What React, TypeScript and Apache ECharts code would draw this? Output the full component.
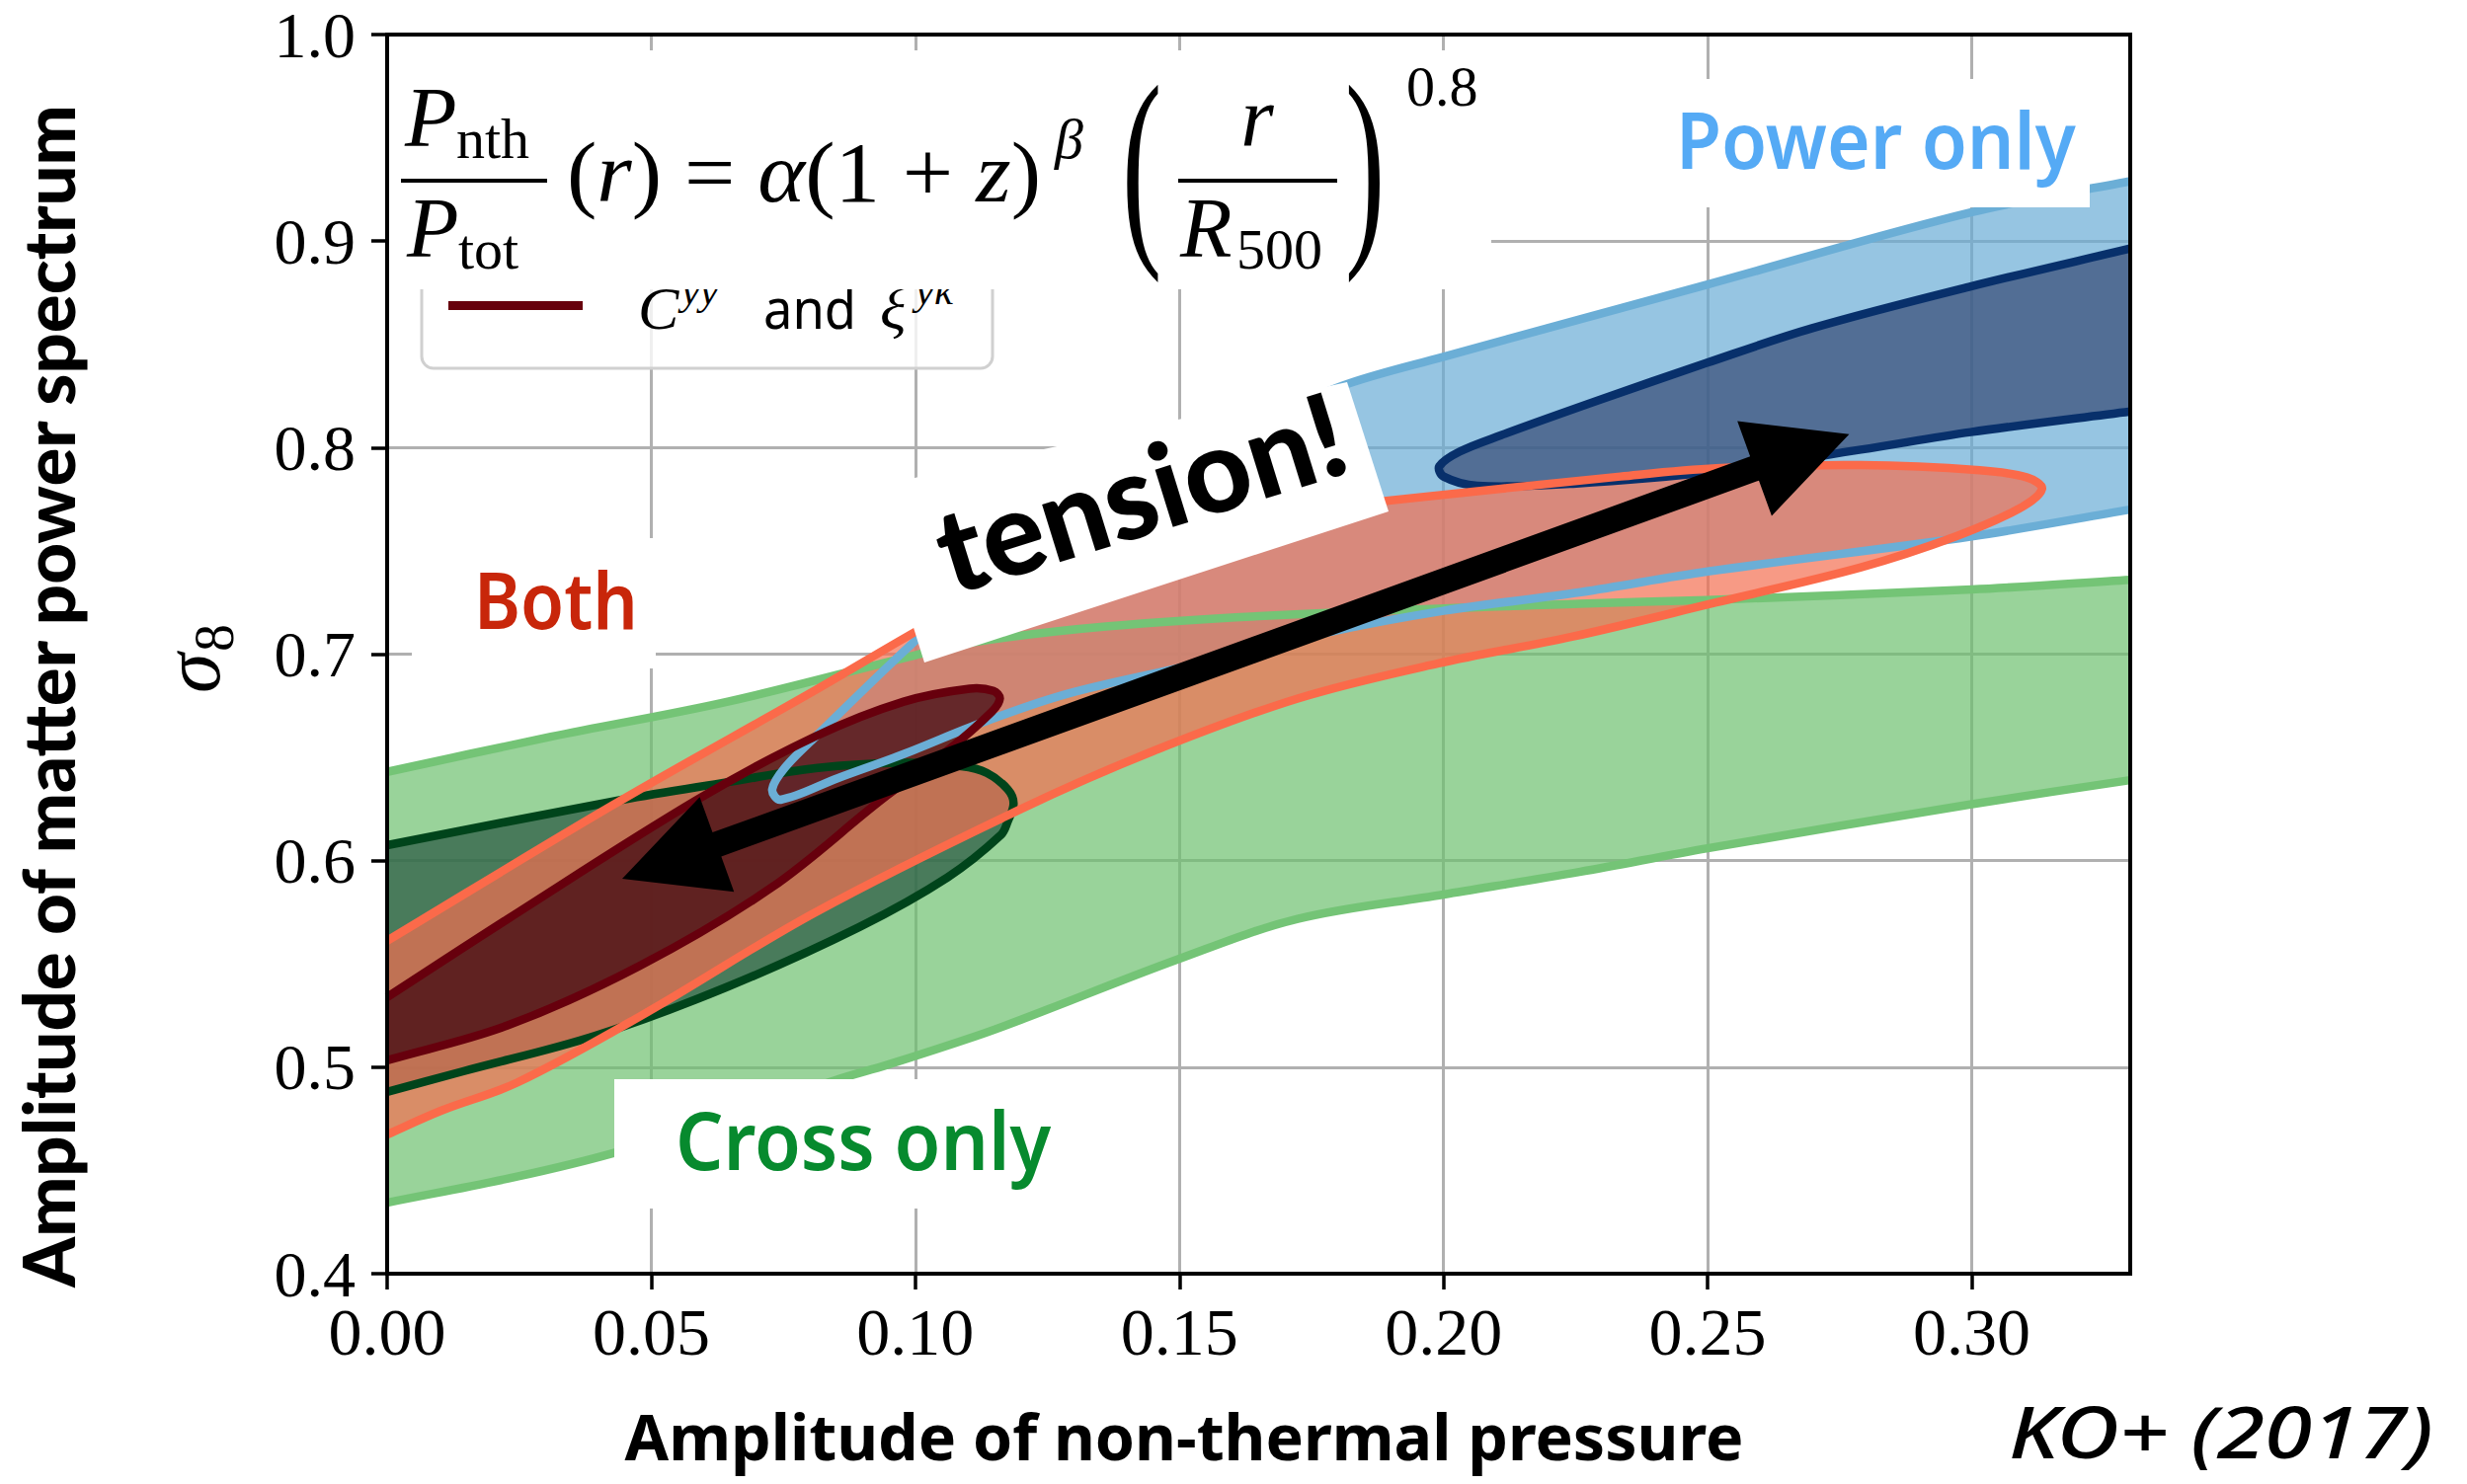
import React, { useEffect, useRef } from 'react';
import * as echarts from 'echarts';

// ---------------- data ----------------
const xTickValues = [0, 0.05, 0.1, 0.15, 0.2, 0.25, 0.3];
const yTickValues = [0.4, 0.5, 0.6, 0.7, 0.8, 0.9, 1.0];
const xRange = [0, 0.33];
const yRange = [0.4, 1.0];

// "Cross only" 95% band (upper and lower edges)
const green95Upper = [[0, 0.643], [0.031, 0.66], [0.0645, 0.677], [0.1, 0.6995], [0.1115, 0.706], [0.1366, 0.7135], [0.17, 0.719], [0.2257, 0.7244], [0.25, 0.7262], [0.3, 0.7313], [0.33, 0.736]];
const green95Lower = [[0, 0.4344], [0.0246, 0.447], [0.043, 0.4585], [0.065, 0.476], [0.0846, 0.4935], [0.0949, 0.5013], [0.1114, 0.515], [0.12, 0.523], [0.15, 0.5525], [0.1724, 0.5718], [0.2, 0.5836], [0.2257, 0.5945], [0.25, 0.606], [0.3, 0.6273], [0.33, 0.639]];
// "Cross only" 68%
const green68 = [[0, 0.6075], [0.0445, 0.6295], [0.0645, 0.638], [0.0811, 0.6448], [0.0978, 0.6474], [0.1087, 0.6457], [0.1135, 0.6425], [0.1175, 0.6345], [0.1186, 0.6277], [0.1175, 0.619], [0.1162, 0.6124], [0.1061, 0.5919], [0.0895, 0.568], [0.0645, 0.539], [0.0394, 0.5152], [0.0144, 0.498], [0, 0.488]];
// "Power only" 95%
const blue95 = [[0.33, 0.929], [0.3, 0.914], [0.25, 0.879], [0.2, 0.844], [0.182, 0.831], [0.17, 0.818], [0.16, 0.804], [0.15, 0.791], [0.14, 0.778], [0.13, 0.763], [0.12, 0.747], [0.11, 0.728], [0.1, 0.7065], [0.0811, 0.66], [0.0753, 0.645], [0.0729, 0.6345], [0.0745, 0.6295], [0.0854, 0.64], [0.0979, 0.6517], [0.1128, 0.667], [0.1285, 0.6806], [0.151, 0.694], [0.178, 0.7105], [0.2, 0.721], [0.226, 0.73], [0.25, 0.74], [0.3, 0.757], [0.33, 0.77]];
// "Power only" 68%
const blue68 = [[0.33, 0.8964], [0.2998, 0.878], [0.2698, 0.8578], [0.2498, 0.841], [0.229, 0.8226], [0.2109, 0.806], [0.203, 0.798], [0.1992, 0.791], [0.2, 0.786], [0.2064, 0.7815], [0.2245, 0.7825], [0.2516, 0.7885], [0.279, 0.799], [0.2998, 0.8075], [0.33, 0.8175]];
// "Both" 95%
const red95 = [[0, 0.5612], [0.0428, 0.627], [0.0811, 0.6826], [0.1, 0.7108], [0.115, 0.732], [0.13, 0.748], [0.15, 0.761], [0.17, 0.769], [0.1883, 0.774], [0.2335, 0.786], [0.2516, 0.79], [0.279, 0.7915], [0.3015, 0.789], [0.3105, 0.7855], [0.3133, 0.78], [0.309, 0.7705], [0.297, 0.757], [0.279, 0.742], [0.2516, 0.725], [0.2245, 0.7085], [0.199, 0.6955], [0.1724, 0.6785], [0.145, 0.653], [0.12, 0.625], [0.0811, 0.575], [0.0478, 0.5245], [0.0246, 0.4925], [0.0103, 0.479], [0, 0.4674]];
// "Both" 68%
const red68 = [[0, 0.5339], [0.0228, 0.5717], [0.0587, 0.6295], [0.0811, 0.6602], [0.0978, 0.677], [0.1103, 0.6833], [0.1148, 0.6822], [0.116, 0.6785], [0.1145, 0.6722], [0.1061, 0.6533], [0.0936, 0.6295], [0.0728, 0.587], [0.0478, 0.549], [0.0228, 0.5202], [0, 0.5033]];
// double-headed "tension" arrow: tip points
const arrowEnds = [[0.0445, 0.5912], [0.2768, 0.8065]];

// ---------------- layout / style ----------------
const W = 2498;
const H = 1503;
const GRID = { left: 392, top: 35, width: 1765, height: 1255 };
const SERIF = 'Liberation Serif';
const SANS = 'Noto Sans';
const KMAP: Record<string, number> = { 'Liberation Serif': 0.3375, 'Noto Sans': 0.388, Lato: 0.387 };
const SMOOTH = 0.35;
const LINE_W = 8.5;

let _ctx: any = null;
function measure(text: string, size: number, family: string, weight: any = 'normal', style = 'normal') {
  if (!_ctx) _ctx = document.createElement('canvas').getContext('2d');
  _ctx.font = `${style} ${weight} ${size}px "${family}"`;
  return _ctx.measureText(text).width;
}

function textEl(text: string, x: number, baseline: number, o: any) {
  const k = KMAP[o.family] ?? 0.35;
  return {
    type: 'text',
    x,
    y: baseline - k * o.size,
    scaleX: o.scaleX ?? 1,
    z: 50,
    style: {
      text,
      fontSize: o.size,
      fontFamily: o.family,
      fontWeight: o.weight ?? 'normal',
      fontStyle: o.style ?? 'normal',
      fill: o.fill ?? '#000',
      align: o.align ?? 'left',
      verticalAlign: 'middle',
    },
  };
}

function fitText(text: string, x: number, baseline: number, width: number, o: any) {
  const w = measure(text, o.size, o.family, o.weight, o.style);
  return textEl(text, x, baseline, { ...o, scaleX: width / w });
}

// Cubic segments through pixel points of an open curve (distance-weighted tangents)
const f2 = (v: number) => v.toFixed(2);
function curveSegs(px: number[][]) {
  const n = px.length;
  const before: number[][] = [];
  const after: number[][] = [];
  for (let i = 0; i < n; i++) {
    const p = px[i];
    const prev = px[Math.max(i - 1, 0)];
    const next = px[Math.min(i + 1, n - 1)];
    const vx = next[0] - prev[0];
    const vy = next[1] - prev[1];
    let d0 = Math.hypot(p[0] - prev[0], p[1] - prev[1]);
    let d1 = Math.hypot(next[0] - p[0], next[1] - p[1]);
    const s = d0 + d1;
    if (s > 0) { d0 /= s; d1 /= s; }
    before.push([p[0] - vx * SMOOTH * d0, p[1] - vy * SMOOTH * d0]);
    after.push([p[0] + vx * SMOOTH * d1, p[1] + vy * SMOOTH * d1]);
  }
  let d = '';
  for (let i = 0; i < n - 1; i++) {
    d += ` C${f2(after[i][0])} ${f2(after[i][1])} ${f2(before[i + 1][0])} ${f2(before[i + 1][1])} ${f2(px[i + 1][0])} ${f2(px[i + 1][1])}`;
  }
  return d;
}
function openPath(px: number[][]) {
  return `M${f2(px[0][0])} ${f2(px[0][1])}` + curveSegs(px);
}
// filled region: smooth contour pieces joined by straight runs along the plot edge
function fillPath(parts: number[][][]) {
  let d = `M${f2(parts[0][0][0])} ${f2(parts[0][0][1])}` + curveSegs(parts[0]);
  for (let k = 1; k < parts.length; k++) {
    d += ` L${f2(parts[k][0][0])} ${f2(parts[k][0][1])}` + curveSegs(parts[k]);
  }
  return d + ' Z';
}

function fillSeries(parts: number[][][], fill: string) {
  return {
    type: 'custom',
    coordinateSystem: 'cartesian2d',
    silent: true,
    z: 2,
    data: [[0.1, 0.6]],
    renderItem: (_params: any, api: any) => ({
      type: 'path',
      shape: { pathData: fillPath(parts.map((l) => l.map((p) => api.coord(p)))) },
      style: { fill, stroke: null },
    }),
  };
}

function lineSeries(lines: number[][][], color: string, width: number) {
  return {
    type: 'custom',
    coordinateSystem: 'cartesian2d',
    silent: true,
    z: 3,
    data: [[0.1, 0.6]],
    renderItem: (_params: any, api: any) => ({
      type: 'group',
      children: lines.map((l) => ({
        type: 'path',
        shape: { pathData: openPath(l.map((p) => api.coord(p))) },
        style: { stroke: color, lineWidth: width, fill: null, lineJoin: 'round' },
      })),
    }),
  };
}

function arrowSeries() {
  return {
    type: 'custom',
    coordinateSystem: 'cartesian2d',
    silent: true,
    z: 4,
    data: [[0.1, 0.6]],
    renderItem: (_p: any, api: any) => {
      const a = api.coord(arrowEnds[0]);
      const b = api.coord(arrowEnds[1]);
      const dx = b[0] - a[0];
      const dy = b[1] - a[1];
      const L = Math.hypot(dx, dy);
      const ux = dx / L, uy = dy / L, nx = -uy, ny = ux;
      const hl = 102, hw = 51, sw = 13;
      const P = (base: number[], u: number, n: number) => [base[0] + ux * u + nx * n, base[1] + uy * u + ny * n];
      const pts = [
        a,
        P(a, hl, hw), P(a, hl, sw), P(b, -hl, sw), P(b, -hl, hw),
        b,
        P(b, -hl, -hw), P(b, -hl, -sw), P(a, hl, -sw), P(a, hl, -hw),
      ];
      return { type: 'polygon', shape: { points: pts }, style: { fill: '#000' } };
    },
  };
}

function buildGraphics() {
  const g: any[] = [];
  // legend (mostly hidden by formula box)
  g.push({ type: 'rect', z: 50, shape: { x: 427, y: 240, width: 578, height: 133, r: 12 }, style: { fill: 'rgba(255,255,255,0.8)', stroke: '#d0d0d0', lineWidth: 3 } });
  g.push({ type: 'rect', z: 50, shape: { x: 454, y: 305, width: 136, height: 9 }, style: { fill: '#67000d' } });
  g.push(textEl('C', 646, 333, { size: 62, family: SERIF, style: 'italic' }));
  g.push(textEl('yy', 690, 308, { size: 42, family: SERIF, style: 'italic' }));
  g.push(fitText('and', 773, 333, 94, { size: 56, family: SANS }));
  g.push(textEl('ξ', 891, 333, { size: 62, family: SERIF, style: 'italic' }));
  g.push(textEl('yκ', 927, 308, { size: 42, family: SERIF, style: 'italic' }));

  // formula box
  g.push({ type: 'rect', z: 50, shape: { x: 394, y: 51, width: 1116, height: 242 }, style: { fill: '#fff' } });
  g.push(textEl('P', 410, 148, { size: 86, family: SERIF, style: 'italic' }));
  g.push(textEl('nth', 462, 160, { size: 58, family: SERIF }));
  g.push({ type: 'rect', z: 50, shape: { x: 406, y: 181, width: 148, height: 4 }, style: { fill: '#000' } });
  g.push(textEl('P', 412, 260, { size: 86, family: SERIF, style: 'italic' }));
  g.push(textEl('tot', 464, 272, { size: 58, family: SERIF }));
  const segs: [string, string][] = [['(', 'normal'], ['r', 'italic'], [')', 'normal'], [' = ', 'normal'], ['α', 'italic'], ['(1 + ', 'normal'], ['z', 'italic'], [')', 'normal']];
  let cx = 0;
  const kids = segs.map(([t, st]) => {
    const el = textEl(t, cx, 0, { size: 86, family: SERIF, style: st });
    cx += measure(t, 86, SERIF, 'normal', st);
    return el;
  });
  g.push({ type: 'group', x: 574, y: 204, scaleX: 480 / cx, z: 50, children: kids });
  g.push(textEl('β', 1068, 160, { size: 58, family: SERIF, style: 'italic' }));
  g.push(textEl('(', 1136, 239, { size: 220, family: SERIF, scaleX: 0.55 }));
  g.push(textEl('r', 1273, 148, { size: 86, family: SERIF, style: 'italic', align: 'center' }));
  g.push({ type: 'rect', z: 50, shape: { x: 1193, y: 181, width: 161, height: 4 }, style: { fill: '#000' } });
  g.push(textEl('R', 1195, 260, { size: 86, family: SERIF, style: 'italic' }));
  g.push(textEl('500', 1252, 272, { size: 58, family: SERIF }));
  g.push(textEl(')', 1362, 239, { size: 220, family: SERIF, scaleX: 0.55 }));
  g.push(textEl('0.8', 1424, 107, { size: 58, family: SERIF }));

  // Power only
  g.push({ type: 'rect', z: 50, shape: { x: 1650, y: 80, width: 466, height: 130 }, style: { fill: '#fff' } });
  g.push(fitText('Power only', 1697, 171, 405, { size: 80, family: SANS, weight: 600, fill: '#55aaf5' }));
  // Both
  g.push({ type: 'rect', z: 50, shape: { x: 417, y: 545, width: 247, height: 132 }, style: { fill: '#fff' } });
  g.push(fitText('Both', 480, 637, 166, { size: 80, family: SANS, weight: 600, fill: '#c8260a' }));
  // Cross only
  g.push({ type: 'rect', z: 50, shape: { x: 622, y: 1093, width: 498, height: 131 }, style: { fill: '#fff' } });
  g.push(fitText('Cross only', 684, 1185, 380, { size: 82, family: SANS, weight: 600, fill: '#078a2e' }));
  // tension box + text
  g.push({ type: 'polygon', z: 50, shape: { points: [[881, 494], [1364, 387], [1406, 518], [936, 671]] }, style: { fill: '#fff' } });
  const tw = measure('tension!', 100, 'Lato', 900);
  const tfs = (100 * 427) / tw;
  g.push({ type: 'group', x: 964, y: 603, rotation: 0.3003, z: 50, children: [textEl('tension!', 0, 0, { size: tfs, family: 'Lato', weight: 900 })] });

  // frame
  g.push({ type: 'rect', z: 60, shape: { x: GRID.left, y: GRID.top, width: GRID.width, height: GRID.height }, style: { fill: null, stroke: '#000', lineWidth: 4 } });

  // axis titles
  const yl = 'Amplitude of matter power spectrum';
  const yfs = (72 * 1202) / measure(yl, 72, 'Lato', 900);
  g.push({ type: 'group', x: 76, y: 705, rotation: Math.PI / 2, z: 50, children: [textEl(yl, 0, 0, { size: yfs, family: 'Lato', weight: 900, align: 'center' })] });
  g.push({
    type: 'group', x: 222, y: 702, rotation: Math.PI / 2, z: 50,
    children: [
      textEl('σ', 0, 0, { size: 82, family: SERIF, style: 'italic' }),
      textEl('8', 42, 14, { size: 56, family: SERIF }),
    ],
  });
  g.push(fitText('Amplitude of non-thermal pressure', 1199, 1479, 1133, { size: 64, family: SANS, weight: 700, align: 'center' }));
  g.push(fitText('KO+ (2017)', 2034, 1477, 430, { size: 72, family: SANS, weight: 500, style: 'italic' }));
  return g;
}

function buildOption() {
  const axisCommon = {
    type: 'value',
    axisLine: { show: true, lineStyle: { color: '#000', width: 4 } },
    splitLine: { show: true, lineStyle: { color: '#b0b0b0', width: 3 } },
  };
  return {
    animation: false,
    backgroundColor: '#fff',
    grid: { ...GRID, containLabel: false },
    xAxis: {
      ...axisCommon,
      min: xRange[0],
      max: xRange[1],
      interval: 0.05,
      axisTick: { show: true, inside: false, length: 16, lineStyle: { color: '#000', width: 3.5 }, customValues: xTickValues },
      axisLabel: { customValues: xTickValues, formatter: (v: number) => v.toFixed(2), fontFamily: SERIF, fontSize: 68, color: '#000', margin: 25 },
    },
    yAxis: {
      ...axisCommon,
      min: yRange[0],
      max: yRange[1],
      interval: 0.1,
      axisTick: { show: true, inside: false, length: 16, lineStyle: { color: '#000', width: 3.5 }, customValues: yTickValues },
      axisLabel: { customValues: yTickValues, formatter: (v: number) => v.toFixed(1), fontFamily: SERIF, fontSize: 66, color: '#000', margin: 32 },
    },
    series: [
      fillSeries([green95Upper, green95Lower.slice().reverse()], 'rgba(109,193,111,0.7)'),
      fillSeries([green68], 'rgba(39,86,64,0.7)'),
      fillSeries([blue95], 'rgba(106,172,214,0.7)'),
      fillSeries([blue68], 'rgba(52,73,117,0.7)'),
      fillSeries([red95], 'rgba(244,111,81,0.7)'),
      fillSeries([red68], 'rgba(55,0,12,0.7)'),
      lineSeries([green95Upper, green95Lower], '#74c476', LINE_W),
      lineSeries([green68], '#00441b', LINE_W),
      lineSeries([blue95], '#6baed6', LINE_W),
      lineSeries([blue68], '#08306b', LINE_W),
      lineSeries([red95], '#fb6a4a', LINE_W),
      lineSeries([red68], '#67000d', LINE_W),
      arrowSeries(),
    ],
    graphic: { elements: buildGraphics() },
  };
}

export default function App() {
  const ref = useRef<HTMLDivElement>(null);
  useEffect(() => {
    const chart = echarts.init(ref.current as HTMLDivElement, null, { renderer: 'svg' });
    chart.setOption(buildOption() as any);
    return () => chart.dispose();
  }, []);
  return <div ref={ref} style={{ position: 'absolute', left: 0, top: 0, width: W, height: H, background: '#fff' }} />;
}
